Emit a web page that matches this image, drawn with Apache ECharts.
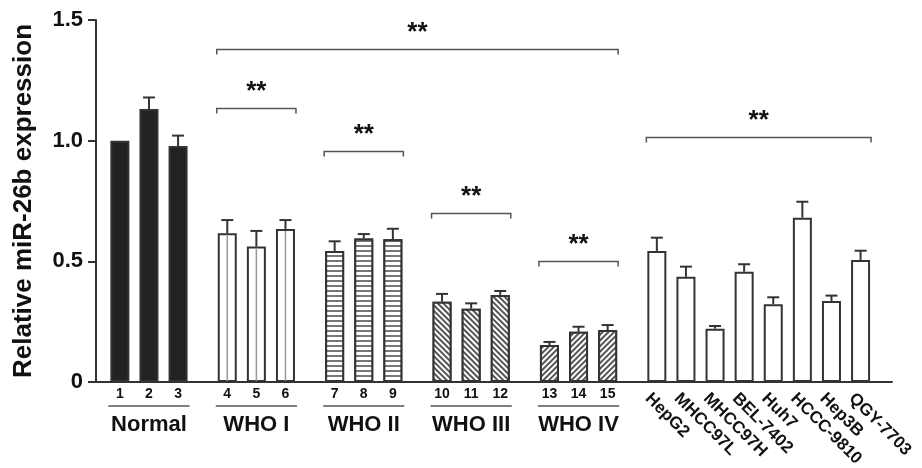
<!DOCTYPE html>
<html>
<head>
<meta charset="utf-8">
<script src="https://cdn.jsdelivr.net/npm/echarts@6/dist/echarts.min.js"></script>
<style>
html, body { margin: 0; padding: 0; background: #fff; }
#main { width: 922px; height: 468px; }
</style>
</head>
<body>
<div id="main"></div>
<script>
// groups and bars
var groupNames = ['Normal', 'WHO I', 'WHO II', 'WHO III', 'WHO IV', ''];
var groupSizes = [3, 3, 3, 3, 3, 8];
var barLabels = ['1', '2', '3', '4', '5', '6', '7', '8', '9', '10', '11', '12', '13', '14', '15',
	'HepG2', 'MHCC97L', 'MHCC97H', 'BEL-7402', 'Huh7', 'HCCC-9810', 'Hep3B', 'QGY-7703'];
var values = [1.0, 1.131, 0.978, 0.616, 0.561, 0.634, 0.543, 0.595, 0.591, 0.333, 0.304, 0.361,
	0.153, 0.208, 0.215, 0.543, 0.436, 0.221, 0.457, 0.322, 0.681, 0.336, 0.506];
var errors = [0, 0.048, 0.043, 0.055, 0.065, 0.037, 0.040, 0.018, 0.044, 0.032, 0.022, 0.016,
	0.013, 0.021, 0.021, 0.055, 0.042, 0.011, 0.031, 0.029, 0.066, 0.022, 0.038];
// significance brackets (first bar, last bar, height)
var bracketFrom = [3, 3, 6, 9, 12, 15];
var bracketTo = [14, 5, 8, 11, 14, 22];
var bracketY = [1.38, 1.135, 0.957, 0.70, 0.50, 1.015];
var yTicks = ['0', '0.5', '1.0', '1.5'];

var FONT = '"Liberation Sans", Arial, sans-serif';
var GAP = 0.69; // extra space between groups
var HALF = 10.5; // half bar width in px

// bar positions on x axis
var barGroup = [];
var barPos = [];
var n = 0;
groupSizes.forEach(function(size, g) {
	for (var k = 0; k < size; k++) {
		barGroup.push(g);
		barPos.push(n + g * GAP);
		n++;
	}
});

var groupStyles = [
	{ color: '#222' },
	{ color: '#fff' },
	{ color: '#fff', decal: { symbol: 'rect', symbolSize: 1, color: '#777', backgroundColor: '#fff', dashArrayX: [1, 0], dashArrayY: [2, 2.7] } },
	{ color: '#fff', decal: { symbol: 'rect', symbolSize: 1, color: '#555', backgroundColor: '#fff', dashArrayX: [1, 0], dashArrayY: [1.5, 1.8], rotation: Math.PI / 4 } },
	{ color: '#fff', decal: { symbol: 'rect', symbolSize: 1, color: '#555', backgroundColor: '#fff', dashArrayX: [1, 0], dashArrayY: [1.5, 1.8], rotation: -Math.PI / 4 } },
	{ color: '#fff' }
];

var barData = values.map(function(v, i) {
	var s = groupStyles[barGroup[i]];
	return {
		value: [barPos[i], v],
		itemStyle: {
			color: s.color,
			decal: s.decal || null,
			borderColor: '#333',
			borderWidth: 2
		}
	};
});

var errData = values.map(function(v, i) {
	return [barPos[i], v, errors[i], barGroup[i]];
});

var bracketData = bracketY.map(function(y, i) {
	return [barPos[bracketFrom[i]], barPos[bracketTo[i]], y];
});

var labelData = barLabels.map(function(t, i) {
	return [barPos[i], 0, barGroup[i]];
});

var groupData = [];
var start = 0;
groupSizes.forEach(function(size, g) {
	if (groupNames[g]) groupData.push([barPos[start], barPos[start + size - 1], g]);
	start += size;
});

var chart = echarts.init(document.getElementById('main'));
chart.setOption({
	animation: false,
	grid: {
		left: 96,
		right: 30,
		top: 20,
		bottom: 86,
		containLabel: false,
		outerBoundsMode: 'none'
	},
	xAxis: {
		type: 'value',
		min: -0.82,
		max: 26.53,
		axisLine: { show: true, onZero: false, lineStyle: { color: '#333', width: 2 } },
		axisTick: { show: false },
		axisLabel: { show: false },
		splitLine: { show: false }
	},
	yAxis: {
		type: 'value',
		min: 0,
		max: 1.5,
		interval: 0.5,
		name: 'Relative miR-26b expression',
		nameLocation: 'middle',
		nameGap: 59,
		nameTextStyle: { fontFamily: FONT, fontSize: 26, fontWeight: 'bold', color: '#111' },
		axisLine: { show: true, onZero: false, lineStyle: { color: '#333', width: 2 } },
		axisTick: { show: true, length: 8, lineStyle: { color: '#333', width: 2 } },
		axisLabel: {
			margin: 13,
			fontFamily: FONT,
			fontSize: 22,
			fontWeight: 'bold',
			color: '#111',
			formatter: function(v) {
				return yTicks[Math.round(v / 0.5)];
			}
		},
		splitLine: { show: false }
	},
	series: [{
		type: 'bar',
		barWidth: 19,
		data: barData,
		z: 2
	}, {
		// inner line of WHO I bars + error bars
		type: 'custom',
		z: 3,
		data: errData,
		renderItem: function(params, api) {
			var x = api.value(0), v = api.value(1), e = api.value(2), g = api.value(3);
			var base = api.coord([x, 0]);
			var top = api.coord([x, v]);
			var children = [];
			if (g === 1) {
				children.push({ type: 'line', shape: { x1: top[0], y1: top[1] + 2, x2: base[0], y2: base[1] - 1 }, style: { stroke: '#999', lineWidth: 1.5 } });
			}
			if (e > 0) {
				var p = api.coord([x, v + e]);
				children.push({ type: 'line', shape: { x1: top[0], y1: top[1], x2: p[0], y2: p[1] }, style: { stroke: '#333', lineWidth: 2 } });
				children.push({ type: 'line', shape: { x1: p[0] - 6, y1: p[1], x2: p[0] + 6, y2: p[1] }, style: { stroke: '#333', lineWidth: 2 } });
			}
			return { type: 'group', children: children };
		}
	}, {
		// brackets with **
		type: 'custom',
		z: 3,
		data: bracketData,
		renderItem: function(params, api) {
			var a = api.coord([api.value(0), api.value(2)]);
			var b = api.coord([api.value(1), api.value(2)]);
			var x1 = a[0] - HALF, x2 = b[0] + HALF, y = Math.round(a[1]) + 0.5;
			return {
				type: 'group',
				children: [{
					type: 'polyline',
					shape: { points: [[x1, y + 5], [x1, y], [x2, y], [x2, y + 5]] },
					style: { stroke: '#555', lineWidth: 1.5, fill: null }
				}, {
					type: 'text',
					x: (x1 + x2) / 2,
					y: y - 17,
					style: { text: '**', font: 'bold 26px ' + FONT, fill: '#111', align: 'center', verticalAlign: 'middle' }
				}]
			};
		}
	}, {
		// bar labels below axis
		type: 'custom',
		z: 3,
		data: labelData,
		renderItem: function(params, api) {
			var p = api.coord([api.value(0), 0]);
			var g = api.value(2);
			var text = barLabels[params.dataIndex];
			if (g < 5) {
				return {
					type: 'text',
					x: p[0],
					y: p[1] + 12,
					style: { text: text, font: 'bold 14px ' + FONT, fill: '#111', align: 'center', verticalAlign: 'middle' }
				};
			}
			return {
				type: 'text',
				x: p[0] - 3,
				y: p[1] + 8,
				rotation: -Math.PI / 4,
				style: { text: text, font: 'bold 17px ' + FONT, fill: '#111', align: 'left', verticalAlign: 'top' }
			};
		}
	}, {
		// group underline and names
		type: 'custom',
		z: 3,
		data: groupData,
		renderItem: function(params, api) {
			var a = api.coord([api.value(0), 0]);
			var b = api.coord([api.value(1), 0]);
			var x1 = a[0] - HALF - 1, x2 = b[0] + HALF + 1;
			return {
				type: 'group',
				children: [{
					type: 'line',
					shape: { x1: x1, y1: a[1] + 24, x2: x2, y2: a[1] + 24 },
					style: { stroke: '#555', lineWidth: 1.5 }
				}, {
					type: 'text',
					x: (x1 + x2) / 2,
					y: a[1] + 43,
					style: { text: groupNames[api.value(2)], font: 'bold 22px ' + FONT, fill: '#111', align: 'center', verticalAlign: 'middle' }
				}]
			};
		}
	}]
});
</script>
</body>
</html>
